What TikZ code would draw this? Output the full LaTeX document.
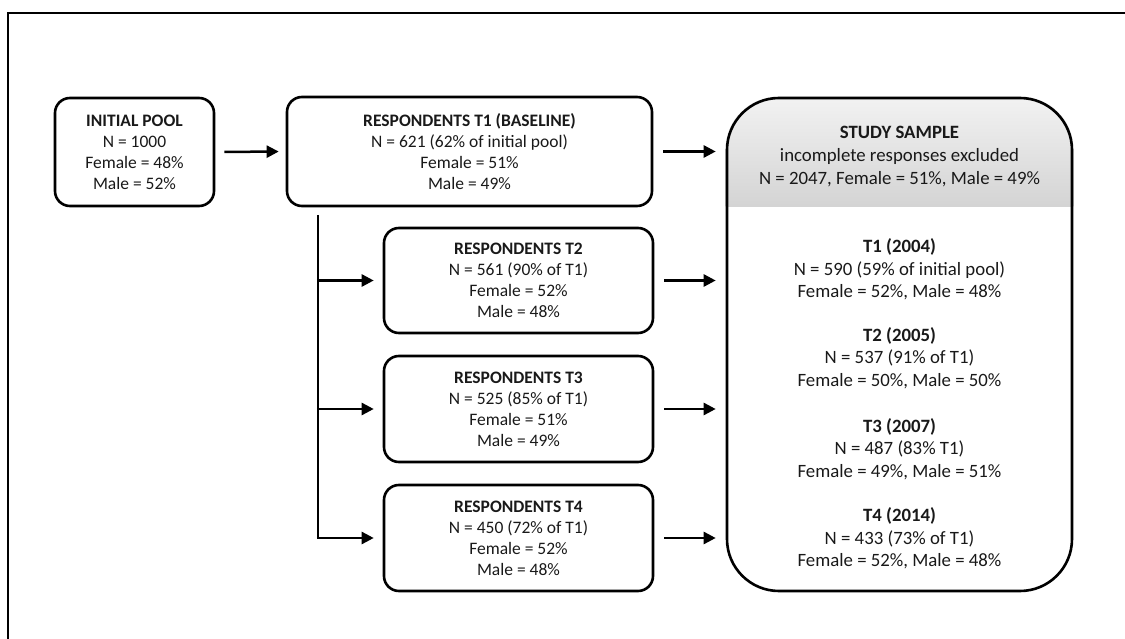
\documentclass[tikz,border=0pt]{standalone}
\usepackage{fontspec}
\setmainfont{Carlito}
\usetikzlibrary{arrows.meta,backgrounds}

\tikzset{
  x=1pt, y=-1pt,
  box/.style={draw, line width=2.6pt, rounded corners=15pt, align=center,
    inner sep=0pt, font=\fontsize{17.5}{21}\selectfont, text=black!90},
  bigbox/.style={draw, line width=2.6pt, rounded corners=52pt, inner sep=0pt},
  sampletext/.style={align=center, font=\fontsize{18.8}{22.6}\selectfont, text=black!90},
  flow/.style={line width=2.5pt, -{Triangle[length=12pt,width=12pt]}},
  trunkline/.style={line width=2.5pt},
}

\begin{document}
\begin{tikzpicture}
\useasboundingbox (0,0) rectangle (1125,639);
\clip (0,0) rectangle (1125,639);

% outer frame (runs past the right and bottom page edges)
\draw[line width=1.8pt] (8,13) rectangle (1140,660);

% pipeline boxes
\node[box, minimum width=159pt, minimum height=108pt] (pool) at (134.5,152)
  {\textbf{INITIAL POOL}\\N = 1000\\Female = 48\%\\Male = 52\%};
\node[box, minimum width=365pt, minimum height=109pt] (t1) at (469.5,151.5)
  {\textbf{RESPONDENTS T1 (BASELINE)}\\N = 621 (62\% of initial pool)\\Female = 51\%\\Male = 49\%};
\node[box, minimum width=269pt, minimum height=105pt] (t2) at (518.5,280.5)
  {\textbf{RESPONDENTS T2}\\N = 561 (90\% of T1)\\Female = 52\%\\Male = 48\%};
\node[box, minimum width=269pt, minimum height=106pt] (t3) at (518.5,409)
  {\textbf{RESPONDENTS T3}\\N = 525 (85\% of T1)\\Female = 51\%\\Male = 49\%};
\node[box, minimum width=269pt, minimum height=106pt] (t4) at (518.5,538)
  {\textbf{RESPONDENTS T4}\\N = 450 (72\% of T1)\\Female = 52\%\\Male = 48\%};

% study sample panel with shaded header
\node[bigbox, minimum width=345pt, minimum height=493pt] (study) at (899.5,344.5) {};
\begin{pgfonlayer}{background}
  \begin{scope}
    \clip[rounded corners=52pt] (study.south west) rectangle (study.north east);
    \shade[top color=black!5, bottom color=black!17]
      (study.north west) rectangle ([yshift=-110pt]study.north east);
  \end{scope}
\end{pgfonlayer}

\node[sampletext] (hdr) at (899.5,156.5)
  {\textbf{STUDY SAMPLE}\\incomplete responses excluded\\N = 2047, Female = 51\%, Male = 49\%};
\node[sampletext] (s1) at (899.5,269.5)
  {\textbf{T1 (2004)}\\N = 590 (59\% of initial pool)\\Female = 52\%, Male = 48\%};
\node[sampletext] (s2) at (899.5,358)
  {\textbf{T2 (2005)}\\N = 537 (91\% of T1)\\Female = 50\%, Male = 50\%};
\node[sampletext] (s3) at (899.5,449)
  {\textbf{T3 (2007)}\\N = 487 (83\% T1)\\Female = 49\%, Male = 51\%};
\node[sampletext] (s4) at (899.5,538.5)
  {\textbf{T4 (2014)}\\N = 433 (73\% of T1)\\Female = 52\%, Male = 48\%};

% connectors
\draw[flow, shorten <=9pt, shorten >=7pt] (pool.east) -- (t1.west);
\foreach \b in {t1,t2,t3,t4}
  \draw[flow, shorten <=10pt, shorten >=10pt] (\b.east) -- (\b.east -| study.west);

\coordinate (trunk) at (318,215);
\draw[trunkline] (trunk) -- (trunk |- t4.west);
\foreach \b in {t2,t3,t4}
  \draw[flow, shorten >=9pt] ([xshift=-1.25pt]trunk |- \b.west) -- (\b.west);
\end{tikzpicture}
\end{document}
